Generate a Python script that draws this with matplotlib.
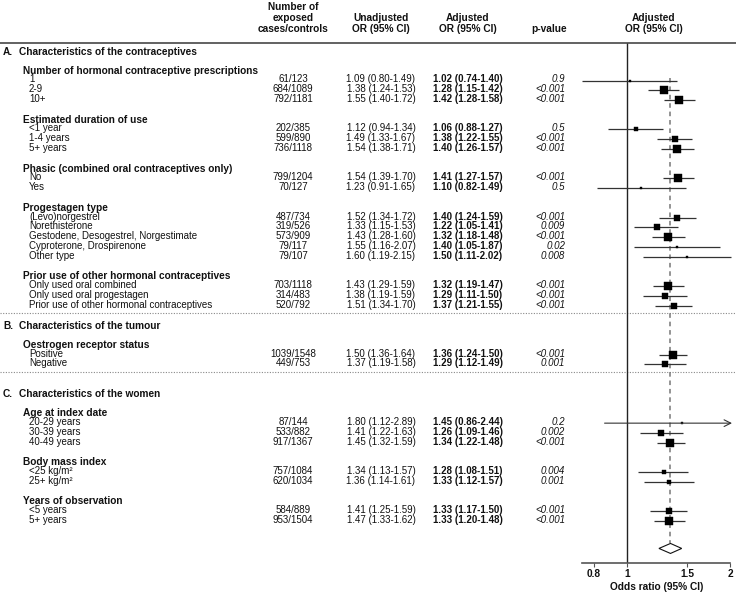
import numpy as np
import matplotlib
matplotlib.use("Agg")
import matplotlib.pyplot as plt
from matplotlib.patches import Polygon

plt.rcParams['font.family'] = ['Liberation Sans', 'DejaVu Sans']

# ---------------- data ----------------
section_letters = ["A.", "B.", "C."]
section_titles = ["Characteristics of the contraceptives",
                  "Characteristics of the tumour",
                  "Characteristics of the women"]

group_titles = ["Number of hormonal contraceptive prescriptions",
                "Estimated duration of use",
                "Phasic (combined oral contraceptives only)",
                "Progestagen type",
                "Prior use of other hormonal contraceptives",
                "Oestrogen receptor status",
                "Age at index date",
                "Body mass index",
                "Years of observation"]
group_section = [0, 0, 0, 0, 0, 1, 2, 2, 2]

row_labels = ["1", "2-9", "10+",
              "<1 year", "1-4 years", "5+ years",
              "No", "Yes",
              "(Levo)norgestrel", "Norethisterone", "Gestodene, Desogestrel, Norgestimate",
              "Cyproterone, Drospirenone", "Other type",
              "Only used oral combined", "Only used oral progestagen",
              "Prior use of other hormonal contraceptives",
              "Positive", "Negative",
              "20-29 years", "30-39 years", "40-49 years",
              "<25 kg/m²", "25+ kg/m²",
              "<5 years", "5+ years"]
row_group = [0, 0, 0, 1, 1, 1, 2, 2, 3, 3, 3, 3, 3, 4, 4, 4, 5, 5, 6, 6, 6, 7, 7, 8, 8]

cases_controls = ["61/123", "684/1089", "792/1181",
                  "202/385", "599/890", "736/1118",
                  "799/1204", "70/127",
                  "487/734", "319/526", "573/909", "79/117", "79/107",
                  "703/1118", "314/483", "520/792",
                  "1039/1548", "449/753",
                  "87/144", "533/882", "917/1367",
                  "757/1084", "620/1034",
                  "584/889", "953/1504"]

unadj_or = [1.09, 1.38, 1.55, 1.12, 1.49, 1.54, 1.54, 1.23, 1.52, 1.33, 1.43, 1.55, 1.60,
            1.43, 1.38, 1.51, 1.50, 1.37, 1.80, 1.41, 1.45, 1.34, 1.36, 1.41, 1.47]
unadj_lo = [0.80, 1.24, 1.40, 0.94, 1.33, 1.38, 1.39, 0.91, 1.34, 1.15, 1.28, 1.16, 1.19,
            1.29, 1.19, 1.34, 1.36, 1.19, 1.12, 1.22, 1.32, 1.13, 1.14, 1.25, 1.33]
unadj_hi = [1.49, 1.53, 1.72, 1.34, 1.67, 1.71, 1.70, 1.65, 1.72, 1.53, 1.60, 2.07, 2.15,
            1.59, 1.59, 1.70, 1.64, 1.58, 2.89, 1.63, 1.59, 1.57, 1.61, 1.59, 1.62]

adj_or = [1.02, 1.28, 1.42, 1.06, 1.38, 1.40, 1.41, 1.10, 1.40, 1.22, 1.32, 1.40, 1.50,
          1.32, 1.29, 1.37, 1.36, 1.29, 1.45, 1.26, 1.34, 1.28, 1.33, 1.33, 1.33]
adj_lo = [0.74, 1.15, 1.28, 0.88, 1.22, 1.26, 1.27, 0.82, 1.24, 1.05, 1.18, 1.05, 1.11,
          1.19, 1.11, 1.21, 1.24, 1.12, 0.86, 1.09, 1.22, 1.08, 1.12, 1.17, 1.20]
adj_hi = [1.40, 1.42, 1.58, 1.27, 1.55, 1.57, 1.57, 1.49, 1.59, 1.41, 1.48, 1.87, 2.02,
          1.47, 1.50, 1.55, 1.50, 1.49, 2.44, 1.46, 1.48, 1.51, 1.57, 1.50, 1.48]

p_values = ["0.9", "<0.001", "<0.001", "0.5", "<0.001", "<0.001", "<0.001", "0.5",
            "<0.001", "0.009", "<0.001", "0.02", "0.008",
            "<0.001", "<0.001", "<0.001", "<0.001", "0.001",
            "0.2", "0.002", "<0.001", "0.004", "0.001", "<0.001", "<0.001"]

pooled_or, pooled_lo, pooled_hi = 1.34, 1.24, 1.445

x_ticks = [0.8, 1, 1.5, 2]
x_tick_labels = ["0.8", "1", "1.5", "2"]

# ---------------- layout ----------------
W, H = 736, 594
Y0, STEP = 79.5, 9.79
X_MIN, X_MAX = 0.7388, 2.027
AX_LEFT, AX_RIGHT, AX_Y = 582, 732, 563

def ypx(idx):
    return Y0 + STEP * idx

row_idx = []
group_first = {}
section_first = {}
section_prev_last = {}
cur = 0.0
prev_group = None
prev_section = None
section_gaps = {1: 5, 2: 6}
for i, g in enumerate(row_group):
    if prev_group is None:
        cur = 0
    elif g == prev_group:
        cur += 1
    else:
        s = group_section[g]
        if s != prev_section:
            section_prev_last[s] = cur
            cur += section_gaps[s]
        else:
            cur += 3
    if g not in group_first:
        group_first[g] = cur
        s = group_section[g]
        if s not in section_first:
            section_first[s] = cur
    row_idx.append(cur)
    prev_group = g
    prev_section = group_section[g]
diamond_idx = cur + 2.9

fig = plt.figure(figsize=(W / 100, H / 100), dpi=100)
tab = fig.add_axes([0, 0, 1, 1])
tab.set_xlim(0, W)
tab.set_ylim(H, 0)
tab.axis('off')

FS = 7.0
FSB = 7.25
txt_col = '#111111'

hdr_kw = dict(fontsize=FSB, fontweight='bold', ha='center', va='center', color=txt_col)
for k, line in enumerate(["Number of", "exposed", "cases/controls"]):
    tab.text(293, 6.5 + 11.3 * k, line, **hdr_kw)
for k, line in enumerate(["Unadjusted", "OR (95% CI)"]):
    tab.text(381, 17.8 + 11.3 * k, line, **hdr_kw)
for k, line in enumerate(["Adjusted", "OR (95% CI)"]):
    tab.text(468, 17.8 + 11.3 * k, line, **hdr_kw)
tab.text(549, 29.1, "p-value", **hdr_kw)
for k, line in enumerate(["Adjusted", "OR (95% CI)"]):
    tab.text(654, 17.8 + 11.3 * k, line, **hdr_kw)

tab.hlines(42.7, 0, W, color='#555555', lw=1.3)

for s in range(len(section_titles)):
    yy = ypx(section_first[s] - 2.85)
    tab.text(3, yy, section_letters[s], fontsize=FSB, fontweight='bold', ha='left', va='center', color=txt_col)
    tab.text(19, yy, section_titles[s], fontsize=FSB, fontweight='bold', ha='left', va='center', color=txt_col)
    if s in section_prev_last:
        tab.hlines(ypx(section_prev_last[s] + 0.85), 0, W, color='#888888', lw=0.8,
                   linestyles=(0, (1, 1.4)))

for g, title in enumerate(group_titles):
    tab.text(23, ypx(group_first[g] - 0.9), title, fontsize=FSB, fontweight='bold',
             ha='left', va='center', color=txt_col)

for i in range(len(row_labels)):
    yy = ypx(row_idx[i])
    tab.text(29, yy, row_labels[i], fontsize=FS, ha='left', va='center', color=txt_col)
    tab.text(293, yy, cases_controls[i], fontsize=FS, ha='center', va='center', color=txt_col)
    tab.text(381, yy, f"{unadj_or[i]:.2f} ({unadj_lo[i]:.2f}-{unadj_hi[i]:.2f})",
             fontsize=FS, ha='center', va='center', color=txt_col)
    tab.text(468, yy, f"{adj_or[i]:.2f} ({adj_lo[i]:.2f}-{adj_hi[i]:.2f})",
             fontsize=FS, fontweight='bold', ha='center', va='center', color=txt_col)
    tab.text(565, yy, p_values[i], fontsize=FS, style='italic', ha='right', va='center', color=txt_col)

# ---------------- forest plot ----------------
fx = fig.add_axes([AX_LEFT / W, (H - AX_Y) / H, (AX_RIGHT - AX_LEFT) / W, AX_Y / H])
fx.set_xscale('log')
fx.set_xlim(X_MIN, X_MAX)
fx.set_ylim(AX_Y, 0)
fx.patch.set_visible(False)
for sp in ['top', 'left', 'right']:
    fx.spines[sp].set_visible(False)
fx.spines['bottom'].set_color('#555555')
fx.spines['bottom'].set_linewidth(1.2)
fx.spines['bottom'].set_bounds(X_MIN, 2.0)
fx.set_yticks([])
fx.set_xticks(x_ticks)
fx.set_xticklabels(x_tick_labels, fontsize=FSB, fontweight='bold', color=txt_col)
fx.minorticks_off()
fx.tick_params(axis='x', length=3, width=0.8, color='#555555', pad=1.5)
fx.set_xlabel("Odds ratio (95% CI)", fontsize=FSB, fontweight='bold', color=txt_col, labelpad=2)

fx.vlines(1, 42.7, AX_Y, color='#222222', lw=1.0)
yd = ypx(diamond_idx)
fx.vlines(pooled_or, ypx(-0.2), yd - 5, color='#777777', lw=1.1, linestyles=(0, (3, 2.5)))

line_c = '#333333'
for i in range(len(adj_or)):
    yy = ypx(row_idx[i]) + 1
    lo, hi = adj_lo[i], adj_hi[i]
    if hi > X_MAX:
        fx.annotate('', xy=(X_MAX, yy), xytext=(lo, yy),
                    arrowprops=dict(arrowstyle='->', color=line_c, lw=0.8,
                                    shrinkA=0, shrinkB=0, mutation_scale=12))
    else:
        fx.hlines(yy, lo, hi, color=line_c, lw=0.9)
    side_px = max(1.65 / np.log(hi / lo), 2.0)
    fx.plot([adj_or[i]], [yy], marker='s', ms=side_px * 0.72, mec='black', mfc='black',
            mew=0.3, ls='none')

dia = Polygon([[pooled_lo, yd], [pooled_or, yd - 5], [pooled_hi, yd], [pooled_or, yd + 5]],
              closed=True, facecolor='white', edgecolor='#111111', lw=0.8)
fx.add_patch(dia)

fig.savefig("out.png", dpi=100)
